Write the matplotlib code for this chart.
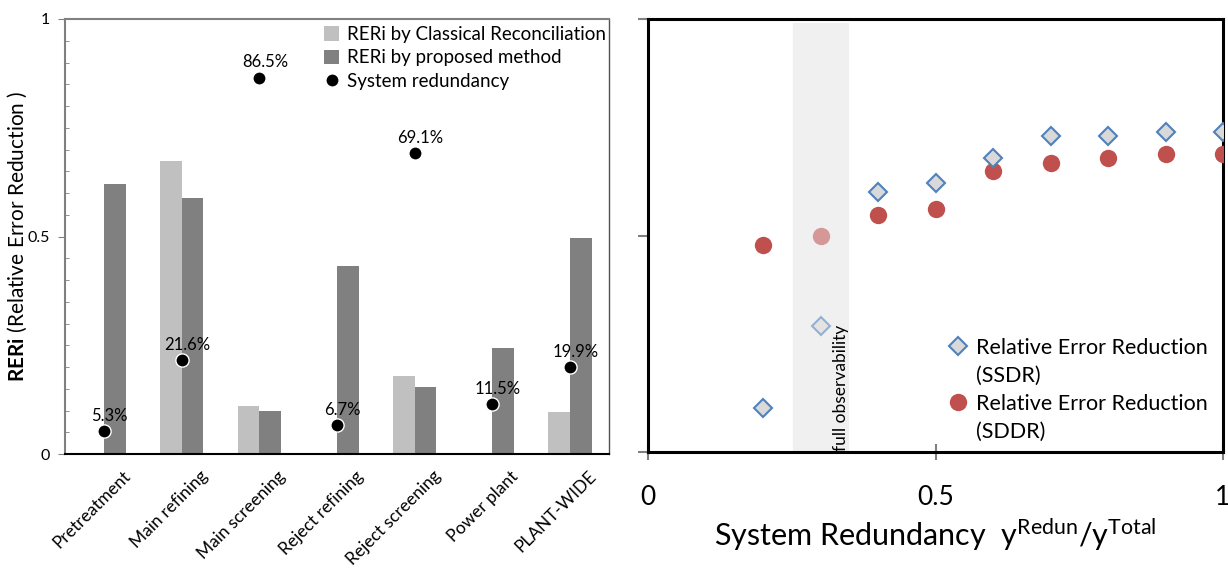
import matplotlib
matplotlib.use("Agg")
import matplotlib.pyplot as plt
import matplotlib.transforms as mtransforms
from matplotlib.lines import Line2D
from matplotlib.ticker import MultipleLocator

plt.rcParams['font.family'] = ['Lato', 'DejaVu Sans']
plt.rcParams['mathtext.fontset'] = 'custom'
plt.rcParams['mathtext.rm'] = 'Lato'
plt.rcParams['mathtext.bf'] = 'Lato:bold'

# ---- left panel data: per-section error reduction ----
sections = ["Pretreatment", "Main refining", "Main screening", "Reject refining",
            "Reject screening", "Power plant", "PLANT-WIDE"]
rer_classical = [0.0, 0.674, 0.110, 0.0, 0.179, 0.0, 0.097]
rer_proposed = [0.621, 0.588, 0.100, 0.433, 0.155, 0.244, 0.497]
redundancy = [0.053, 0.216, 0.865, 0.067, 0.691, 0.115, 0.199]

# ---- right panel data: error reduction vs system redundancy ----
sys_redundancy = [0.2, 0.3, 0.4, 0.5, 0.6, 0.7, 0.8, 0.9, 1.0]
rer_ssdr = [0.102, 0.291, 0.600, 0.621, 0.680, 0.729, 0.729, 0.739, 0.739]
rer_sddr = [0.479, 0.500, 0.548, 0.561, 0.650, 0.668, 0.679, 0.688, 0.688]
observability_band = (0.253, 0.347)

fig = plt.figure(figsize=(12.28, 5.69), dpi=100)

# ================= left panel =================
ax1 = fig.add_axes([65 / 1228, 1 - 454 / 569, (609 - 65) / 1228, (454 - 19) / 569])
x = list(range(len(sections)))
w = 0.28
b1 = ax1.bar([i - w / 2 for i in x], rer_classical, width=w, color="#c0c0c0",
             label="RERi by Classical Reconciliation", zorder=2)
b2 = ax1.bar([i + w / 2 for i in x], rer_proposed, width=w, color="#808080",
             label="RERi by proposed method", zorder=2)
p1, = ax1.plot(x, redundancy, "o", color="black", markeredgecolor="white",
               markeredgewidth=1.0, markersize=9.5, label="System redundancy", zorder=3)
for i, v in zip(x, redundancy):
    ax1.annotate(f"{v * 100:.1f}%", (i, v), xytext=(4, 11), textcoords="offset points",
                 ha="center", va="center", fontsize=12, zorder=4)

ax1.set_xlim(-0.5, len(sections) - 0.5)
ax1.set_ylim(0, 1)
ax1.set_yticks([0, 0.5, 1])
ax1.set_yticklabels(["0", "0.5", "1"])
ax1.yaxis.set_minor_locator(MultipleLocator(0.05))
ax1.tick_params(axis="y", which="major", direction="out", length=5, color="#808080",
                labelsize=11.5, pad=6)
ax1.tick_params(axis="y", which="minor", direction="in", length=3, color="#808080")
ax1.set_xticks(x)
ax1.set_xticklabels(sections, rotation=45, ha="right", rotation_mode="anchor", fontsize=12.5)
ax1.tick_params(axis="x", length=0, pad=10)
shift = mtransforms.ScaledTranslation(18 / 100, 0, fig.dpi_scale_trans)
for lab in ax1.get_xticklabels():
    lab.set_transform(lab.get_transform() + shift)
for s in ["left", "top"]:
    ax1.spines[s].set_color("#808080")
    ax1.spines[s].set_linewidth(1.5)
ax1.spines["right"].set_color("#505050")
ax1.spines["right"].set_linewidth(1.0)
ax1.spines["bottom"].set_color("black")
ax1.spines["bottom"].set_linewidth(1.5)
ax1.set_ylabel(r"$\bf{RERi}$ (Relative Error Reduction )", fontsize=15)
ax1.yaxis.set_label_coords(-0.067, 0.5)

ax1.legend([b1, b2, p1], [b1.get_label(), b2.get_label(), p1.get_label()],
           loc="upper right", bbox_to_anchor=(1.015, 1.01), frameon=False,
           fontsize=13.5, handlelength=0.8, handleheight=0.8, handletextpad=0.4,
           labelspacing=0.35, borderaxespad=0.2)

# ================= right panel =================
ax2 = fig.add_axes([648 / 1228, 1 - 452 / 569, (1223 - 648) / 1228, (452 - 19) / 569])
ax2.axvspan(*observability_band, ymin=0, ymax=0.99, color="#f0f0f0", zorder=0)
ax2.text(observability_band[1] - 0.012, 0.002, "full observability", rotation=90,
         ha="center", va="bottom", fontsize=12.5, zorder=1)

face_alpha = [1.0 if r != 0.3 else 0.55 for r in sys_redundancy]
for r, ys, yd, a in zip(sys_redundancy, rer_ssdr, rer_sddr, face_alpha):
    ax2.plot(r, yd, "o", color="#c0504d", markersize=12.5, alpha=a, zorder=3,
             markeredgewidth=0)
    ax2.plot(r, ys, "D", markerfacecolor="#d9d9d9", markeredgecolor="#4f81bd",
             markeredgewidth=1.5, markersize=9.5, alpha=a, zorder=4)

ax2.set_xlim(0, 1)
ax2.set_ylim(0, 1)
ax2.set_xticks([0, 0.5, 1])
ax2.set_xticklabels(["0", "0.5", "1"])
ax2.set_yticks([0, 0.5, 1])
ax2.set_yticklabels([])
ax2.tick_params(axis="x", direction="inout", length=12, width=1.5, color="#808080",
                labelsize=19, pad=18)
ax2.tick_params(axis="y", direction="out", length=7, width=1.5, color="#808080")
for s in ax2.spines.values():
    s.set_color("black")
    s.set_linewidth(2.2)
ax2.set_xlabel(r"System Redundancy  y$^{\mathregular{Redun}}$/y$^{\mathregular{Total}}$",
               fontsize=22, labelpad=4)

# legend: marker beside the first line of each two-line entry
blank = Line2D([], [], linestyle="none", marker="none")
handles2 = [
    Line2D([], [], linestyle="none", marker="D", markerfacecolor="#d9d9d9",
           markeredgecolor="#4f81bd", markeredgewidth=1.5, markersize=9),
    blank,
    Line2D([], [], linestyle="none", marker="o", color="#c0504d", markersize=12.5,
           markeredgewidth=0),
    blank,
]
labels2 = ["Relative Error Reduction", "(SSDR)", "Relative Error Reduction", "(SDDR)"]
ax2.legend(handles2, labels2, loc="lower right", bbox_to_anchor=(1.008, -0.022),
           frameon=False, fontsize=15.5, handlelength=0.8, handletextpad=0.45,
           labelspacing=0.38)

fig.savefig("out.png", dpi=100)
